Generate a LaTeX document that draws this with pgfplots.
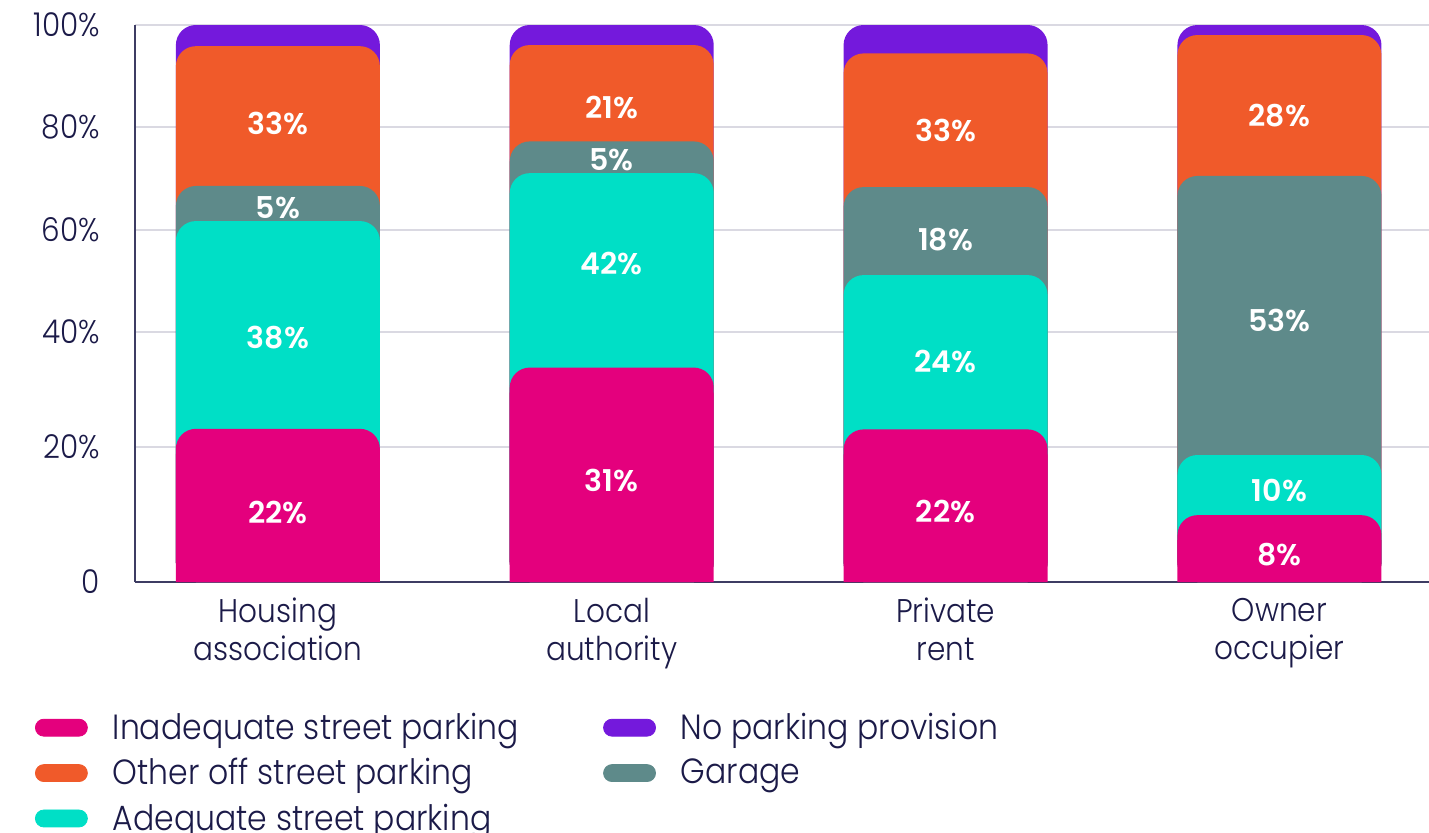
\documentclass[border=0pt]{standalone}
\usepackage{pgfplots}
\pgfplotsset{compat=1.18}
\usepackage{pgfplotstable}
\usepackage{fontspec}
\IfFontExistsTF{Poppins Light}{\setmainfont{Poppins Light}[FakeStretch=0.9]}{\setmainfont{Poppins}[FakeStretch=0.9]}
\IfFontExistsTF{Poppins SemiBold}{\newfontfamily\labfont{Poppins SemiBold}}{\newfontfamily\labfontb{Poppins}\def\labfont{\labfontb\bfseries}}
\definecolor{cpink}{HTML}{E4007D}
\definecolor{ccyan}{HTML}{00DFC6}
\definecolor{cgray}{HTML}{5E8A8A}
\definecolor{corange}{HTML}{F05A2A}
\definecolor{cpurple}{HTML}{7419DC}
\definecolor{navy}{HTML}{1B1A48}
\definecolor{gridc}{HTML}{DAD9E2}

% cumulative top of each segment (as drawn, in axis units)
\pgfplotstableread{
x pink cyan gray orange purple base
0 27.5 64.8 71.1 96.2 100 23.0
1 38.5 73.4 79.1 96.4 100 34.0
2 27.4 55.1 70.9 94.9 100 22.9
3 12.0 22.8 72.9 98.2 100 7.5
}\tops

% printed segment values and their label heights
\pgfplotstableread{
x y lab
0 12.4 22
0 43.8 38
0 67.2 5
0 82.4 33
1 18.3 31
1 57.1 42
1 75.8 5
1 85.1 21
2 12.6 22
2 39.5 24
2 61.4 18
2 81.0 33
3 4.9 8
3 16.5 10
3 47.0 53
3 83.8 28
}\labs

\begin{document}
\begin{tikzpicture}
\useasboundingbox (-67.5pt,-125pt) rectangle (647pt,291pt);
\begin{axis}[
  scale only axis, width=647pt, height=278.5pt,
  xmin=-0.428, xmax=3.448, ymin=0, ymax=100,
  axis lines=left, axis line style={-, navy!85, line width=0.8pt},
  xtick={0,1,2,3},
  xticklabels={Housing\\association, Local\\authority, Private\\rent, Owner\\occupier},
  xticklabel style={align=center, font=\fontsize{16.4}{19}\selectfont, text=navy, yshift=-4.5pt},
  ytick={0,24.24,44.88,63.2,81.69,100},
  yticklabels={0,20\%,40\%,60\%,80\%,100\%},
  yticklabel style={font=\fontsize{16.4}{19}\selectfont, text=navy, xshift=-14pt},
  major tick length=0pt,
  ymajorgrids, grid style={gridc, line width=0.8pt},
  legend columns=2,
  legend cell align=left,
  legend style={at={(0,0)}, anchor=north west, xshift=-50pt, yshift=-63.5pt,
    draw=none, fill=none, inner sep=0pt, outer sep=0pt,
    font=\fontsize{17.5}{21}\selectfont, text=navy, row sep=4pt,
    /tikz/every odd column/.append style={column sep=10.5pt},
    /tikz/every even column/.append style={column sep=40pt}},
]
\addplot[ybar, bar width=102pt, bar shift=0pt, fill=cpurple, draw=none, rounded corners=10pt, forget plot] table[x=x,y=purple]{\tops};
\addplot[ybar, bar width=102pt, bar shift=0pt, fill=corange, draw=none, rounded corners=10pt, forget plot] table[x=x,y=orange]{\tops};
\addplot[ybar, bar width=102pt, bar shift=0pt, fill=cgray, draw=none, rounded corners=10pt, forget plot] table[x=x,y=gray]{\tops};
\addplot[ybar, bar width=102pt, bar shift=0pt, fill=ccyan, draw=none, rounded corners=10pt, forget plot] table[x=x,y=cyan]{\tops};
\addplot[ybar, bar width=102pt, bar shift=0pt, fill=cpink, draw=none, rounded corners=10pt, forget plot] table[x=x,y=pink]{\tops};
\addplot[ybar, bar width=102pt, bar shift=0pt, fill=cpink, draw=none, forget plot] table[x=x,y=base]{\tops};
\addplot[draw=none, mark=none, forget plot, point meta=explicit,
  nodes near coords={\pgfmathprintnumber[assume math mode=true]{\pgfplotspointmeta}\%},
  every node near coord/.style={text=white, font=\labfont\fontsize{15}{18}\selectfont, anchor=center}]
  table[x=x,y=y,meta=lab]{\labs};
\addlegendimage{legend image code/.code={\fill[cpink, rounded corners=4.25pt] (0pt,-4.25pt) rectangle (26pt,4.25pt);}}
\addlegendentry{Inadequate street parking}
\addlegendimage{legend image code/.code={\fill[cpurple, rounded corners=4.25pt] (0pt,-4.25pt) rectangle (26pt,4.25pt);}}
\addlegendentry{No parking provision}
\addlegendimage{legend image code/.code={\fill[corange, rounded corners=4.25pt] (0pt,-4.25pt) rectangle (26pt,4.25pt);}}
\addlegendentry{Other off street parking}
\addlegendimage{legend image code/.code={\fill[cgray, rounded corners=4.25pt] (0pt,-4.25pt) rectangle (26pt,4.25pt);}}
\addlegendentry{Garage}
\addlegendimage{legend image code/.code={\fill[ccyan, rounded corners=4.25pt] (0pt,-4.25pt) rectangle (26pt,4.25pt);}}
\addlegendentry{Adequate street parking}
\end{axis}
\end{tikzpicture}
\end{document}
